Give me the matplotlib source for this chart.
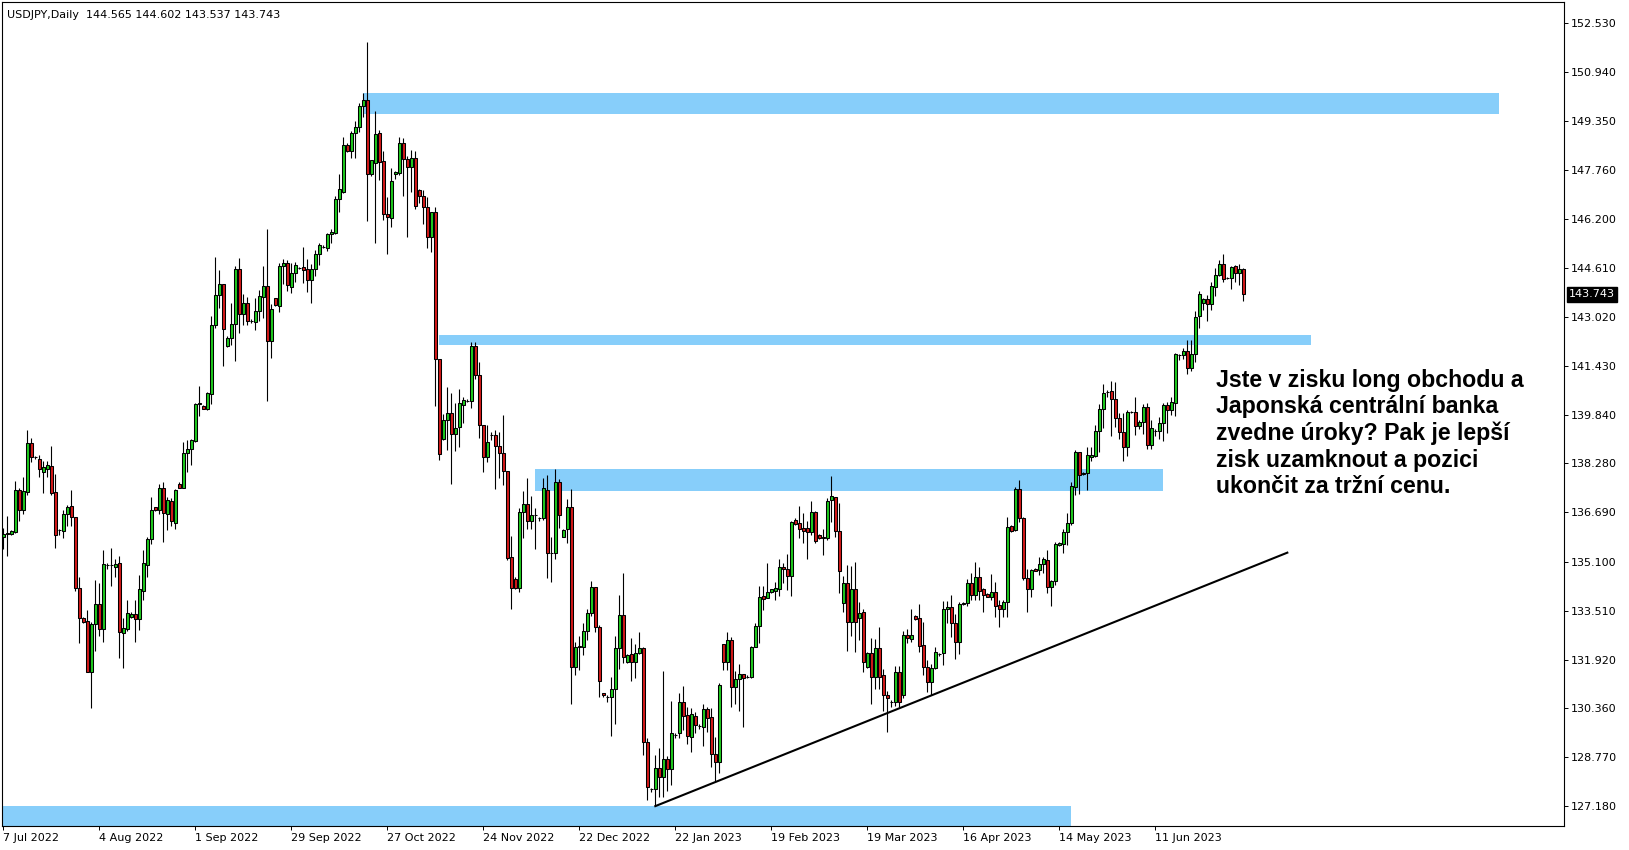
import matplotlib
matplotlib.use('Agg')
import matplotlib.pyplot as plt
from matplotlib.patches import Rectangle
import numpy as np

# USDJPY daily candles (one entry per bar, left to right)
opens = [
    135.90, 136.02, 135.98, 136.06, 137.42, 136.78, 137.36, 138.93, 138.49, 138.41,
    138.01, 138.11, 138.18, 137.34, 136.12, 136.08, 136.63, 136.89, 136.53, 134.26,
    133.27, 133.18, 131.54, 133.07, 133.73, 132.91, 134.98, 134.98, 134.94, 135.06,
    132.78, 132.93, 133.32, 133.40, 133.23, 134.16, 134.98, 135.82, 136.86, 136.76,
    137.47, 136.63, 137.06, 136.36, 137.60, 137.49, 138.60, 138.73, 139.01, 140.20,
    140.15, 140.05, 140.53, 142.74, 143.72, 144.07, 142.09, 142.33, 142.78, 144.57,
    143.10, 143.46, 142.87, 142.86, 143.21, 143.67, 144.02, 142.25, 143.62, 143.38,
    144.66, 144.75, 143.99, 144.43, 144.61, 144.62, 144.56, 144.21, 144.58, 145.04,
    145.29, 145.26, 145.69, 145.74, 146.82, 147.07, 148.58, 148.39, 148.96, 149.17,
    149.84, 150.04, 147.63, 148.01, 148.96, 148.06, 146.35, 146.23, 147.64, 147.68,
    148.63, 148.13, 147.88, 148.15, 147.12, 146.94, 146.58, 145.61, 146.40, 141.65,
    139.06, 139.68, 139.92, 139.23, 139.45, 140.18, 140.31, 140.31, 142.07, 141.14,
    139.53, 138.49, 139.19, 139.20, 138.84, 138.62, 138.03, 135.26, 134.54, 134.24,
    136.69, 136.95, 136.40, 136.62, 136.50, 136.50, 137.43, 135.39, 135.39, 137.69,
    135.91, 136.14, 136.86, 131.70, 132.33, 132.35, 132.85, 133.43, 134.29, 132.97,
    130.84, 130.73, 130.71, 130.97, 132.29, 133.37, 131.86, 132.10, 131.84, 132.13,
    132.29, 129.25, 127.73, 127.73, 128.41, 128.14, 128.70, 128.38, 129.49, 129.56,
    130.55, 130.14, 129.44, 130.10, 129.78, 129.76, 130.33, 130.08, 128.88, 128.63,
    132.43, 131.84, 132.58, 131.03, 131.29, 131.45, 131.38, 131.38, 132.35, 133.03,
    133.99, 133.93, 134.13, 134.16, 134.23, 134.91, 134.85, 134.64, 136.45, 136.34,
    136.18, 136.18, 136.07, 136.69, 135.96, 135.85, 135.87, 137.10, 137.18, 136.10,
    133.75, 134.40, 133.16, 134.21, 133.29, 133.46, 131.68, 132.16, 131.36, 132.30,
    131.43, 130.79, 130.57, 130.55, 131.52, 130.79, 132.73, 132.60, 133.34, 133.27,
    132.40, 131.68, 131.20, 131.65, 132.11, 132.14, 133.56, 133.64, 133.11, 132.51,
    133.73, 133.77, 134.40, 134.02, 134.59, 134.21, 134.05, 133.97, 134.11, 133.70,
    133.57, 133.81, 136.25, 136.12, 137.45, 136.50, 134.56, 134.21, 134.86, 134.83,
    135.03, 135.15, 134.27, 134.48, 135.64, 135.67, 136.05, 136.34, 137.53, 138.64,
    137.94, 137.96, 138.50, 138.52, 139.33, 140.03, 140.60, 140.62, 140.35, 139.74,
    139.29, 138.80, 139.93, 139.93, 139.50, 139.61, 140.10, 138.88, 139.34, 139.34,
    139.58, 140.17, 139.99, 140.23, 141.78, 141.77, 141.92, 141.36, 141.82, 143.05,
    143.48, 143.59, 143.43, 144.00, 144.38, 144.72, 144.29, 144.27, 144.67, 144.43,
    144.565,
]
highs = [
    136.18, 136.56, 136.12, 137.71, 137.47, 137.83, 139.36, 139.09, 138.53, 138.55,
    138.35, 138.35, 138.84, 137.94, 136.15, 136.77, 136.93, 137.42, 136.53, 134.61,
    133.30, 133.54, 133.16, 134.51, 134.40, 135.48, 135.05, 135.54, 135.19, 135.28,
    133.27, 133.86, 133.47, 133.86, 134.67, 135.48, 135.89, 137.18, 136.88, 137.61,
    137.68, 137.20, 137.15, 137.44, 137.67, 138.96, 139.04, 139.07, 140.24, 140.78,
    140.17, 140.60, 143.05, 144.96, 144.54, 144.07, 142.40, 143.46, 144.67, 144.92,
    143.75, 143.66, 142.94, 143.62, 143.89, 144.66, 145.86, 143.44, 143.64, 144.75,
    144.89, 144.86, 144.75, 144.78, 144.64, 145.27, 144.88, 144.72, 145.18, 145.40,
    145.33, 145.74, 145.86, 146.94, 147.64, 148.85, 148.63, 149.03, 149.36, 149.93,
    150.25, 151.90, 148.10, 149.68, 149.06, 148.39, 146.91, 147.82, 147.75, 148.85,
    148.82, 148.23, 148.42, 148.39, 147.16, 147.12, 146.91, 146.42, 146.58, 141.65,
    139.88, 140.75, 140.57, 140.23, 140.69, 140.44, 140.35, 142.22, 142.20, 141.57,
    139.53, 139.53, 139.30, 139.36, 139.29, 139.85, 138.03, 135.93, 134.60, 136.82,
    137.37, 137.82, 137.21, 136.85, 136.55, 137.80, 137.90, 135.91, 138.10, 137.76,
    136.15, 137.12, 137.45, 132.51, 132.69, 133.10, 133.57, 134.48, 134.29, 133.05,
    130.84, 130.78, 131.38, 132.69, 134.02, 134.72, 132.11, 132.62, 132.42, 132.81,
    132.35, 129.38, 127.78, 128.84, 129.08, 131.56, 128.81, 130.60, 129.56, 130.86,
    131.08, 130.41, 130.35, 130.24, 129.84, 130.51, 130.41, 130.37, 129.44, 131.16,
    132.43, 132.83, 132.67, 131.57, 131.79, 131.47, 131.42, 132.38, 133.12, 134.31,
    134.31, 135.04, 134.22, 134.45, 135.17, 135.04, 135.35, 136.42, 136.50, 136.90,
    136.66, 136.42, 137.06, 136.75, 135.98, 136.15, 137.15, 137.87, 137.20, 137.00,
    134.62, 134.99, 134.96, 135.10, 133.81, 133.57, 132.19, 132.62, 132.60, 132.98,
    131.62, 130.93, 130.62, 131.73, 131.73, 132.86, 132.91, 133.56, 133.38, 133.72,
    133.14, 131.92, 131.79, 132.33, 132.16, 133.83, 133.84, 134.02, 133.41, 133.81,
    133.80, 134.54, 134.72, 135.08, 134.92, 134.24, 134.08, 134.69, 134.43, 133.86,
    133.86, 136.53, 136.28, 137.53, 137.74, 136.53, 134.85, 134.85, 134.89, 135.24,
    135.26, 135.48, 134.51, 135.75, 135.72, 136.16, 136.66, 137.69, 138.72, 138.64,
    138.00, 138.82, 138.82, 139.52, 140.19, 140.84, 140.64, 140.93, 140.91, 139.90,
    139.90, 140.01, 139.96, 140.44, 139.69, 140.20, 140.23, 139.69, 139.38, 139.79,
    140.23, 140.28, 140.44, 141.86, 141.82, 142.01, 142.27, 142.27, 143.22, 143.84,
    143.62, 143.73, 144.14, 144.59, 144.86, 145.06, 144.32, 144.67, 144.70, 144.72,
    144.602,
]
lows = [
    135.50, 135.29, 135.97, 136.02, 136.43, 136.64, 137.26, 138.32, 138.41, 137.85,
    137.33, 137.85, 137.24, 135.53, 135.95, 135.85, 136.25, 136.25, 134.16, 132.46,
    133.13, 131.52, 130.35, 132.22, 132.70, 132.49, 134.85, 134.32, 134.61, 131.97,
    131.67, 132.84, 133.29, 132.51, 132.89, 133.86, 134.61, 135.67, 136.74, 136.64,
    135.75, 136.12, 136.25, 136.17, 137.47, 137.47, 138.01, 138.23, 138.98, 139.81,
    140.03, 140.00, 140.20, 142.67, 143.29, 141.44, 142.03, 142.11, 141.60, 142.51,
    142.74, 142.76, 142.83, 142.60, 142.89, 142.97, 140.31, 141.70, 143.38, 143.16,
    144.07, 143.87, 143.78, 144.16, 144.58, 144.10, 143.83, 143.48, 144.35, 144.70,
    145.25, 145.15, 145.40, 145.69, 146.42, 147.04, 148.36, 148.15, 148.15, 149.01,
    149.50, 146.13, 147.59, 145.42, 147.45, 146.15, 145.05, 145.94, 147.48, 147.61,
    146.94, 145.61, 147.07, 146.51, 146.69, 146.03, 145.24, 145.12, 140.15, 138.38,
    139.02, 138.71, 137.60, 138.68, 138.80, 139.58, 140.27, 140.07, 141.01, 139.10,
    138.00, 138.32, 139.05, 137.45, 137.80, 137.58, 135.15, 133.57, 134.20, 134.11,
    135.88, 136.14, 136.17, 135.52, 136.40, 136.46, 134.58, 134.45, 135.17, 136.20,
    135.89, 135.71, 130.51, 131.43, 131.59, 132.08, 132.56, 133.35, 132.83, 130.73,
    130.73, 130.57, 129.47, 129.85, 131.63, 131.81, 131.81, 131.25, 131.32, 132.10,
    128.84, 127.39, 127.66, 127.19, 127.49, 127.49, 127.69, 127.87, 129.41, 129.38,
    129.65, 129.20, 128.95, 129.54, 129.70, 129.13, 129.60, 128.46, 127.98, 128.27,
    131.59, 131.59, 130.41, 130.51, 130.28, 129.76, 131.33, 131.35, 132.35, 132.48,
    133.53, 133.93, 134.10, 133.86, 133.99, 134.42, 134.18, 134.00, 136.30, 135.88,
    135.69, 135.18, 135.96, 135.69, 135.83, 135.31, 135.80, 136.39, 135.89, 134.08,
    133.48, 132.22, 132.71, 132.17, 132.57, 131.52, 131.65, 130.49, 130.98, 130.97,
    130.28, 129.60, 130.41, 130.44, 130.41, 130.70, 132.48, 132.51, 133.20, 132.19,
    131.43, 130.87, 130.79, 131.62, 132.06, 131.76, 133.11, 132.67, 131.95, 132.11,
    133.70, 133.65, 133.86, 133.86, 133.86, 133.48, 133.95, 133.86, 133.32, 132.98,
    133.30, 133.30, 136.05, 136.08, 136.39, 134.51, 133.46, 133.97, 134.79, 134.67,
    134.72, 134.08, 133.68, 134.35, 135.60, 135.37, 135.64, 136.30, 137.26, 137.29,
    137.90, 137.42, 138.37, 138.50, 138.66, 139.42, 140.44, 139.15, 139.47, 139.06,
    138.37, 138.52, 139.90, 139.20, 139.38, 139.22, 138.74, 138.74, 139.15, 139.06,
    138.99, 139.26, 139.85, 139.82, 141.63, 141.65, 141.16, 141.27, 141.57, 142.65,
    143.25, 142.90, 143.25, 143.70, 144.34, 144.16, 144.24, 143.91, 144.16, 144.05,
    143.537,
]
closes = [
    135.98, 136.00, 136.08, 137.42, 136.78, 137.38, 138.93, 138.50, 138.47, 138.09,
    138.15, 138.22, 137.33, 135.95, 136.12, 136.63, 136.86, 136.53, 134.26, 133.29,
    133.16, 131.54, 133.07, 133.73, 132.91, 135.02, 134.98, 135.00, 135.02, 132.83,
    132.94, 133.43, 133.40, 133.23, 134.20, 135.05, 135.82, 136.77, 136.76, 137.47,
    136.66, 137.09, 136.43, 137.42, 137.49, 138.60, 138.73, 139.04, 140.20, 140.22,
    140.05, 140.55, 142.76, 143.72, 144.07, 142.64, 142.33, 142.79, 144.57, 143.10,
    143.46, 142.87, 142.87, 143.20, 143.70, 144.02, 142.25, 143.26, 143.40, 144.67,
    144.75, 144.05, 144.43, 144.69, 144.61, 144.55, 144.21, 144.58, 145.04, 145.34,
    145.29, 145.70, 145.78, 146.83, 147.15, 148.58, 148.39, 148.96, 149.17, 149.84,
    150.04, 147.63, 148.09, 148.92, 148.04, 146.34, 146.26, 147.41, 147.72, 148.63,
    148.11, 147.88, 148.15, 146.62, 146.94, 146.56, 145.61, 146.40, 141.65, 138.58,
    139.68, 139.92, 139.23, 139.42, 140.23, 140.34, 140.31, 142.07, 141.14, 139.53,
    138.49, 138.97, 139.19, 138.84, 138.60, 138.03, 135.23, 134.24, 134.24, 136.69,
    136.95, 136.40, 136.62, 136.62, 136.50, 137.47, 135.39, 135.39, 137.69, 136.62,
    136.13, 136.86, 131.70, 132.33, 132.37, 132.85, 133.43, 134.29, 132.97, 131.25,
    130.79, 130.73, 130.97, 132.29, 133.37, 132.02, 132.08, 131.84, 132.13, 132.29,
    129.25, 127.82, 127.73, 128.41, 128.14, 128.70, 128.38, 129.54, 129.49, 130.57,
    130.11, 129.47, 130.16, 129.81, 129.78, 130.33, 130.05, 128.88, 128.63, 131.11,
    131.84, 132.58, 131.03, 131.29, 131.45, 131.32, 131.38, 132.35, 133.03, 133.96,
    133.89, 134.13, 134.20, 134.26, 134.91, 134.85, 134.64, 136.37, 136.32, 136.14,
    136.10, 136.07, 136.69, 135.78, 135.85, 135.89, 137.07, 137.23, 136.10, 134.81,
    134.40, 133.16, 134.21, 133.16, 133.43, 131.84, 132.16, 131.36, 132.30, 131.36,
    130.79, 130.68, 130.57, 131.52, 130.55, 132.73, 132.62, 132.73, 133.25, 132.38,
    131.68, 131.20, 131.65, 132.17, 132.11, 133.56, 133.64, 133.11, 132.51, 133.73,
    133.77, 134.40, 134.02, 134.59, 134.16, 134.02, 133.97, 134.11, 133.68, 133.57,
    133.81, 136.21, 136.10, 137.45, 136.50, 134.56, 134.21, 134.83, 134.81, 135.01,
    135.19, 134.27, 134.48, 135.66, 135.69, 136.05, 136.34, 137.55, 138.66, 137.91,
    137.98, 138.55, 138.55, 139.33, 140.04, 140.55, 140.60, 140.35, 139.74, 139.28,
    138.80, 139.93, 139.93, 139.50, 139.61, 140.10, 138.88, 139.42, 139.34, 139.58,
    140.17, 139.99, 140.26, 141.82, 141.78, 141.92, 141.36, 141.81, 143.03, 143.75,
    143.59, 143.44, 144.02, 144.38, 144.72, 144.24, 144.29, 144.63, 144.43, 144.56,
    143.743,
]

# x axis: a date label every 24 bars
date_labels = ['7 Jul 2022', '4 Aug 2022', '1 Sep 2022', '29 Sep 2022', '27 Oct 2022',
               '24 Nov 2022', '22 Dec 2022', '22 Jan 2023', '19 Feb 2023', '19 Mar 2023',
               '16 Apr 2023', '14 May 2023', '11 Jun 2023']
bars_per_label = 24

price_ticks = [152.530, 150.940, 149.350, 147.760, 146.200, 144.610, 143.020, 141.430,
               139.840, 138.280, 136.690, 135.100, 133.510, 131.920, 130.360, 128.770, 127.180]

# support / resistance zones (bar from, bar to, price low, price high)
zone_from = [90, 109, 133, -0.3]
zone_to = [374, 327, 290, 267]
zone_low = [149.57, 142.12, 137.40, 126.30]
zone_high = [150.27, 142.43, 138.10, 127.19]

# rising trendline
trend_bars = [163, 321]
trend_prices = [127.19, 135.39]

note = ['Jste v zisku long obchodu a',
        'Japonská centrální banka',
        'zvedne úroky? Pak je lepší',
        'zisk uzamknout a pozici',
        'ukončit za tržní cenu.']

o = np.array(opens)
h = np.array(highs)
l = np.array(lows)
c = np.array(closes)
x = np.arange(len(o))

fig = plt.figure(figsize=(16.29, 8.5), dpi=100)
ax = fig.add_axes([2 / 1629, 1 - 826 / 850, 1562 / 1629, 824 / 850])

for x0, x1, lo, hi in zip(zone_from, zone_to, zone_low, zone_high):
    ax.add_patch(Rectangle((x0, lo), x1 - x0, hi - lo, facecolor='#87cefa',
                           edgecolor='none', zorder=1))

# candles
ax.vlines(x, l, h, color='black', linewidth=0.8, zorder=2)
body_col = np.where(c >= o, '#1ec81e', '#d21919')
ax.bar(x, np.abs(c - o), bottom=np.minimum(o, c), width=0.6, color=body_col,
       edgecolor='black', linewidth=0.75, zorder=3)

ax.plot(trend_bars, trend_prices, color='black', linewidth=1.5, zorder=4)

# comment text
for k, line in enumerate(note):
    ax.text(303.2, 140.76 - k * 0.863, line, fontsize=16.7, fontweight='bold',
            family='Liberation Sans', va='baseline', ha='left', zorder=5)

ax.set_xlim(-0.33, 390.17)
ax.set_ylim(126.547, 153.205)

ax.set_xticks(np.arange(len(date_labels)) * bars_per_label)
ax.set_xticklabels(date_labels, ha='left')
ax.yaxis.tick_right()
ax.set_yticks(price_ticks)
ax.set_yticklabels([f'{p:.3f}' for p in price_ticks])
ax.tick_params(axis='both', length=3, width=0.7, pad=2, labelsize=8, color='black')
for sp in ax.spines.values():
    sp.set_linewidth(0.8)
    sp.set_color('black')

# last price box on the price scale
ax.annotate(f'{closes[-1]:.3f}', xy=(1, closes[-1]), xycoords=('axes fraction', 'data'),
            xytext=(3.6, 0), textcoords='offset points', va='center', ha='left',
            fontsize=8, color='white',
            bbox=dict(boxstyle='square,pad=0.2', fc='black', ec='black'))

fig.text(7 / 1629, 1 - 18.5 / 850,
         f'USDJPY,Daily  {opens[-1]:.3f} {highs[-1]:.3f} {lows[-1]:.3f} {closes[-1]:.3f}',
         fontsize=8, va='baseline', ha='left')

fig.savefig('out.png', dpi=100)
